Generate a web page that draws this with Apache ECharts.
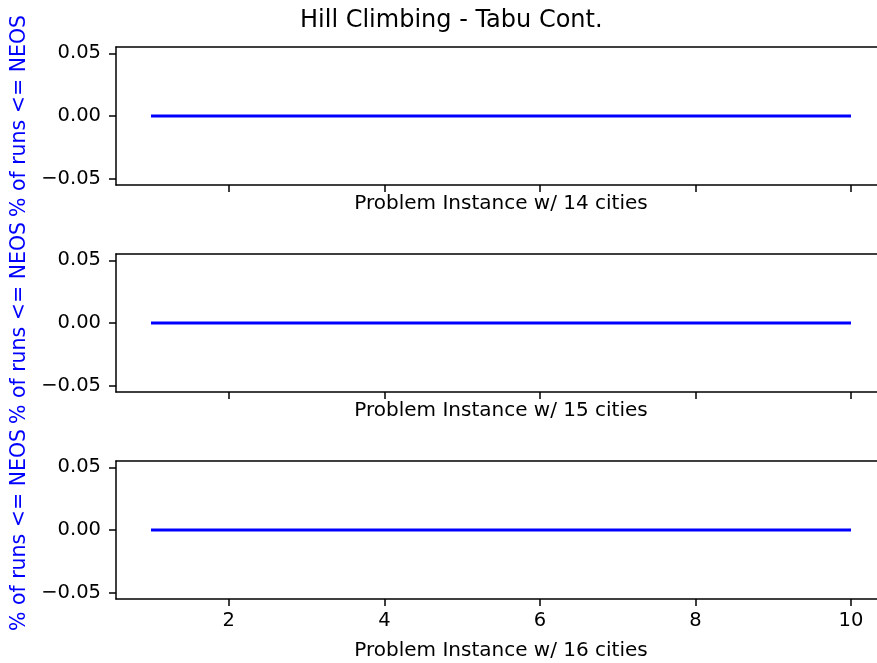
<!DOCTYPE html>
<html>
<head>
<meta charset="utf-8">
<script src="https://cdn.jsdelivr.net/npm/echarts@6/dist/echarts.min.js"></script>
<style>
  html, body { margin: 0; padding: 0; background: #fff; }
  #main { width: 877px; height: 663px; }
</style>
</head>
<body>
<div id="main"></div>
<script>
// problem instances on the x axis
var instances = [1, 2, 3, 4, 5, 6, 7, 8, 9, 10];
// % of runs <= NEOS, one list per city count
var runs14 = [0, 0, 0, 0, 0, 0, 0, 0, 0, 0];
var runs15 = [0, 0, 0, 0, 0, 0, 0, 0, 0, 0];
var runs16 = [0, 0, 0, 0, 0, 0, 0, 0, 0, 0];
var cityCounts = [14, 15, 16];
var xTicks = [2, 4, 6, 8, 10];
var yTicks = [-0.05, 0, 0.05];

var font = 'DejaVu Sans';
var allRuns = [runs14, runs15, runs16];
var tops = [47, 254, 461];
var spine = { color: '#000', width: 1.5 };

function fmtY(v) {
  return (v < 0 ? '\u2212' : '') + Math.abs(v).toFixed(2);
}

var grids = [], xAxes = [], yAxes = [], series = [];
cityCounts.forEach(function (c, i) {
  var last = i === cityCounts.length - 1;
  // the axes run past the right edge of the page, as in the original figure
  grids.push({
    left: 116, width: 770, top: tops[i], height: 138,
    outerBoundsMode: 'none', containLabel: false, show: false
  });
  xAxes.push({
    type: 'value', gridIndex: i, min: 0.55, max: 10.45,
    name: 'Problem Instance w/ ' + c + ' cities',
    nameLocation: 'middle', nameGap: last ? 42 : 9,
    nameTextStyle: { fontFamily: font, fontSize: 20, color: '#000' },
    axisLine: { show: true, onZero: false, lineStyle: spine },
    axisTick: { show: true, customValues: xTicks, length: 7, lineStyle: spine },
    axisLabel: { show: last, customValues: xTicks, margin: 12, fontFamily: font, fontSize: 19.5, color: '#000' },
    splitLine: { show: false }
  });
  // top spine
  xAxes.push({
    type: 'value', gridIndex: i, position: 'top', min: 0.55, max: 10.45,
    axisLine: { show: true, onZero: false, lineStyle: spine },
    axisTick: { show: false }, axisLabel: { show: false }, splitLine: { show: false }
  });
  yAxes.push({
    type: 'value', gridIndex: i, min: -0.055, max: 0.055,
    name: '% of runs <= NEOS',
    nameLocation: 'middle', nameGap: 84,
    nameTextStyle: { fontFamily: font, fontSize: 20.5, color: '#0000ff' },
    axisLine: { show: true, onZero: false, lineStyle: spine },
    axisTick: { show: true, customValues: yTicks, length: 7, lineStyle: spine },
    axisLabel: { customValues: yTicks, margin: 15, formatter: fmtY, fontFamily: font, fontSize: 19.5, color: '#000' },
    splitLine: { show: false }
  });
  series.push({
    type: 'line', xAxisIndex: i * 2, yAxisIndex: i,
    data: instances.map(function (x, k) { return [x, allRuns[i][k]]; }),
    showSymbol: false, symbol: 'none',
    lineStyle: { color: '#0000ff', width: 2.8 },
    animation: false
  });
});

var myChart = echarts.init(document.getElementById('main'));
myChart.setOption({
  animation: false,
  title: {
    text: 'Hill Climbing - Tabu Cont.',
    left: 295, top: 4,
    textStyle: { fontFamily: font, fontSize: 24, fontWeight: 'normal', color: '#000' }
  },
  grid: grids,
  xAxis: xAxes,
  yAxis: yAxes,
  series: series
});
</script>
</body>
</html>
